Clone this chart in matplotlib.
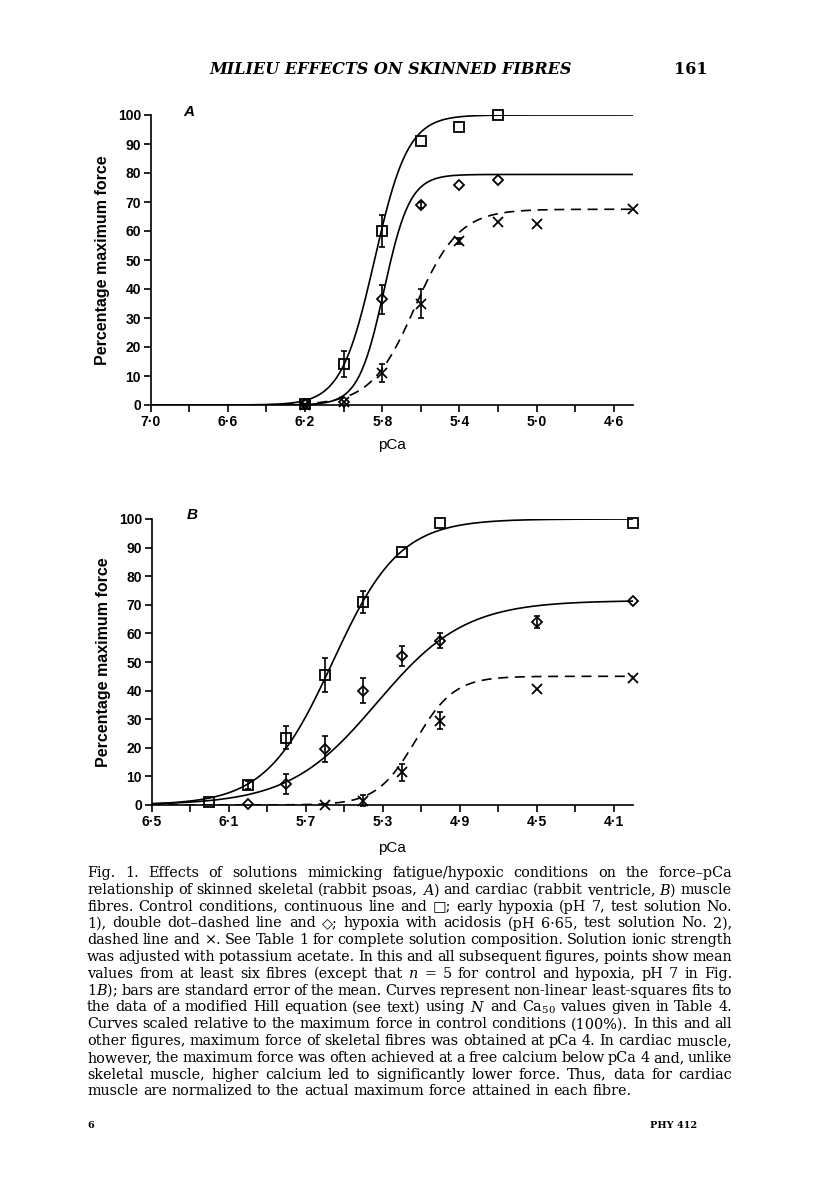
import numpy as np
import matplotlib
matplotlib.use("Agg")
import matplotlib.pyplot as plt
from matplotlib.ticker import FixedLocator, FuncFormatter

plt.rcParams['font.family'] = ['Liberation Sans', 'DejaVu Sans']
plt.rcParams['mathtext.fontset'] = 'custom'
plt.rcParams['mathtext.rm'] = 'DejaVu Serif'
plt.rcParams['mathtext.it'] = 'DejaVu Serif:italic'

# ---- panel A (skeletal) ----
A_ctrl_pca = [6.2, 6.0, 5.8, 5.6, 5.4, 5.2]
A_ctrl = [0.5, 14, 60, 91, 96, 100]
A_ctrl_err = [0, 4.5, 5.5, 0, 0, 0]
A_hyp_pca = [6.2, 6.0, 5.8, 5.6, 5.4, 5.2]
A_hyp = [0.3, 1.0, 36.5, 69, 76, 77.5]
A_hyp_err = [0, 0, 5, 1, 0, 0]
A_acid_pca = [6.2, 6.0, 5.8, 5.6, 5.4, 5.2, 5.0, 4.5]
A_acid = [0, 1, 11, 35, 56.5, 63, 62.5, 67.5]
A_acid_err = [0, 0, 3, 5, 1, 0, 0, 0]
# Hill fit parameters: max force, pCa50, N  (control, hypoxia, acidosis)
A_fit_max = [100, 79.5, 67.5]
A_fit_pca50 = [5.84, 5.79, 5.63]
A_fit_n = [5.0, 6.5, 3.8]

# ---- panel B (cardiac) ----
B_ctrl_pca = [6.2, 6.0, 5.8, 5.6, 5.4, 5.2, 5.0, 4.0]
B_ctrl = [1, 7, 23.5, 45.5, 71, 88.5, 98.5, 98.5]
B_ctrl_err = [0, 1.5, 4, 6, 4, 0, 0, 0]
B_hyp_pca = [6.0, 5.8, 5.6, 5.4, 5.2, 5.0, 4.5, 4.0]
B_hyp = [0.5, 7.5, 19.5, 40, 52, 57.5, 64, 71.5]
B_hyp_err = [0, 3.5, 4.5, 4.5, 3.5, 2.5, 2, 0]
B_acid_pca = [5.6, 5.4, 5.2, 5.0, 4.5, 4.0]
B_acid = [0, 1.5, 11.5, 29.5, 40.5, 44.5]
B_acid_err = [0, 2, 3, 3, 0, 0]
B_fit_max = [100, 71.5, 45]
B_fit_pca50 = [5.56, 5.33, 5.13]
B_fit_n = [2.5, 1.9, 4.3]

A_xticks = [7.0, 6.6, 6.2, 5.8, 5.4, 5.0, 4.6]
B_xticks = [6.5, 6.1, 5.7, 5.3, 4.9, 4.5, 4.1]
yticks = [0, 10, 20, 30, 40, 50, 60, 70, 80, 90, 100]

CAPTION = [
    "Fig. 1. Effects of solutions mimicking fatigue/hypoxic conditions on the force–pCa",
    "relationship of skinned skeletal (rabbit psoas, $\\mathit{A}$) and cardiac (rabbit ventricle, $\\mathit{B}$) muscle",
    "fibres. Control conditions, continuous line and □; early hypoxia (pH 7, test solution No.",
    "1), double dot–dashed line and ◇; hypoxia with acidosis (pH 6·65, test solution No. 2),",
    "dashed line and ×. See Table 1 for complete solution composition. Solution ionic strength",
    "was adjusted with potassium acetate. In this and all subsequent figures, points show mean",
    "values from at least six fibres (except that $\\mathit{n}$ = 5 for control and hypoxia, pH 7 in Fig.",
    "1$\\mathit{B}$); bars are standard error of the mean. Curves represent non-linear least-squares fits to",
    "the data of a modified Hill equation (see text) using $\\mathit{N}$ and Ca$_{50}$ values given in Table 4.",
    "Curves scaled relative to the maximum force in control conditions (100%). In this and all",
    "other figures, maximum force of skeletal fibres was obtained at pCa 4. In cardiac muscle,",
    "however, the maximum force was often achieved at a free calcium below pCa 4 and, unlike",
    "skeletal muscle, higher calcium led to significantly lower force. Thus, data for cardiac",
    "muscle are normalized to the actual maximum force attained in each fibre.",
]

W, H = 816, 1183
fig = plt.figure(figsize=(W / 100, H / 100), dpi=100)


def hill(x, fmax, p50, n):
    return fmax / (1 + 10 ** (n * (x - p50)))


def panel(rect, xlim, xticks, fits, series, letter, letter_pos):
    ax = fig.add_axes(rect)
    xs = np.linspace(xlim[0], xlim[1], 400)
    styles = ['-', '-', (0, (6, 4))]
    fmax, p50, nn = fits
    for i in range(3):
        ax.plot(xs, hill(xs, fmax[i], p50[i], nn[i]), color='black', lw=1.2,
                linestyle=styles[i], zorder=2)
    markers = [('s', 7.0), ('D', 4.8), ('x', 7.0)]
    for (px, py, pe), (m, ms) in zip(series, markers):
        pe = np.array(pe, dtype=float)
        px = np.array(px)
        py = np.array(py)
        k = pe > 0
        ax.errorbar(px[k], py[k], yerr=pe[k], fmt='none', ecolor='black',
                    elinewidth=1.2, capsize=2, capthick=1.2, clip_on=False, zorder=3)
        ax.plot(px, py, linestyle='none', marker=m, markersize=ms,
                markerfacecolor='none', markeredgecolor='black',
                markeredgewidth=1.3, clip_on=False, zorder=4)
    ax.set_xlim(*xlim)
    ax.set_ylim(0, 100)
    for s in ['top', 'right']:
        ax.spines[s].set_visible(False)
    for s in ['left', 'bottom']:
        ax.spines[s].set_linewidth(1.2)
    ax.xaxis.set_major_locator(FixedLocator(xticks))
    ax.xaxis.set_minor_locator(FixedLocator([t - 0.2 for t in xticks]))
    ax.xaxis.set_major_formatter(FuncFormatter(lambda v, p: f"{v:.1f}".replace('.', '·')))
    ax.set_yticks(yticks)
    ax.tick_params(axis='both', which='both', direction='out', length=5,
                   width=1.2, labelsize=10, pad=2)
    for lab in ax.get_xticklabels() + ax.get_yticklabels():
        lab.set_fontweight('bold')
    ax.set_xlabel('pCa', fontsize=11)
    ax.set_ylabel('Percentage maximum force', fontsize=11.5, fontweight='bold')
    ax.yaxis.set_label_coords(-0.085, 0.5)
    ax.text(letter_pos[0], letter_pos[1], letter, transform=ax.transAxes,
            fontsize=11, fontweight='bold', fontstyle='italic', va='center')
    return ax


axA = panel([150.7 / W, 1 - 405 / H, (633 - 150.7) / W, 290 / H], (7.0, 4.5), A_xticks,
            (A_fit_max, A_fit_pca50, A_fit_n),
            [(A_ctrl_pca, A_ctrl, A_ctrl_err), (A_hyp_pca, A_hyp, A_hyp_err),
             (A_acid_pca, A_acid, A_acid_err)], 'A', (0.067, 1.01))
axA.xaxis.set_label_coords(0.5, -0.115)

axB = panel([151.7 / W, 1 - 805 / H, (633 - 151.7) / W, 286 / H], (6.5, 4.0), B_xticks,
            (B_fit_max, B_fit_pca50, B_fit_n),
            [(B_ctrl_pca, B_ctrl, B_ctrl_err), (B_hyp_pca, B_hyp, B_hyp_err),
             (B_acid_pca, B_acid, B_acid_err)], 'B', (0.073, 1.015))
axB.xaxis.set_label_coords(0.5, -0.125)

# page header and footer
serif = ['DejaVu Serif', 'DejaVu Sans']
fig.text(209 / W, 1 - 70 / H, 'MILIEU EFFECTS ON SKINNED FIBRES', fontsize=11.5,
         family=serif, fontweight='bold', fontstyle='italic', va='center', ha='left')
fig.text(708 / W, 1 - 70 / H, '161', fontsize=11.5, family=serif, fontweight='bold',
         va='center', ha='right')
fig.text(87 / W, 1 - 1125 / H, '6', fontsize=7, family=serif, fontweight='bold', va='center')
fig.text(697 / W, 1 - 1125 / H, 'PHY 412', fontsize=7, family=serif, fontweight='bold',
         va='center', ha='right')

# justified caption
CAP_FS = 10.4
renderer = fig.canvas.get_renderer()
x0, x1 = 87, 732
y_first, spacing = 873, 16.8
for i, line in enumerate(CAPTION):
    y = 1 - (y_first + i * spacing) / H
    words = line.split(' ')
    texts = [fig.text(0, y, w, fontsize=CAP_FS, family=serif, va='center', ha='left')
             for w in words]
    widths = [t.get_window_extent(renderer).width for t in texts]
    last = i == len(CAPTION) - 1
    if last:
        gap = fig.text(0, 0, 'a b', fontsize=CAP_FS, family=serif)
        gw = gap.get_window_extent(renderer).width
        gap2 = fig.text(0, 0, 'ab', fontsize=CAP_FS, family=serif)
        gw -= gap2.get_window_extent(renderer).width
        gap.remove()
        gap2.remove()
    else:
        gw = (x1 - x0 - sum(widths)) / (len(words) - 1)
    x = x0
    for t, w in zip(texts, widths):
        t.set_x(x / W)
        x += w + gw

fig.savefig('out.png', dpi=100)
